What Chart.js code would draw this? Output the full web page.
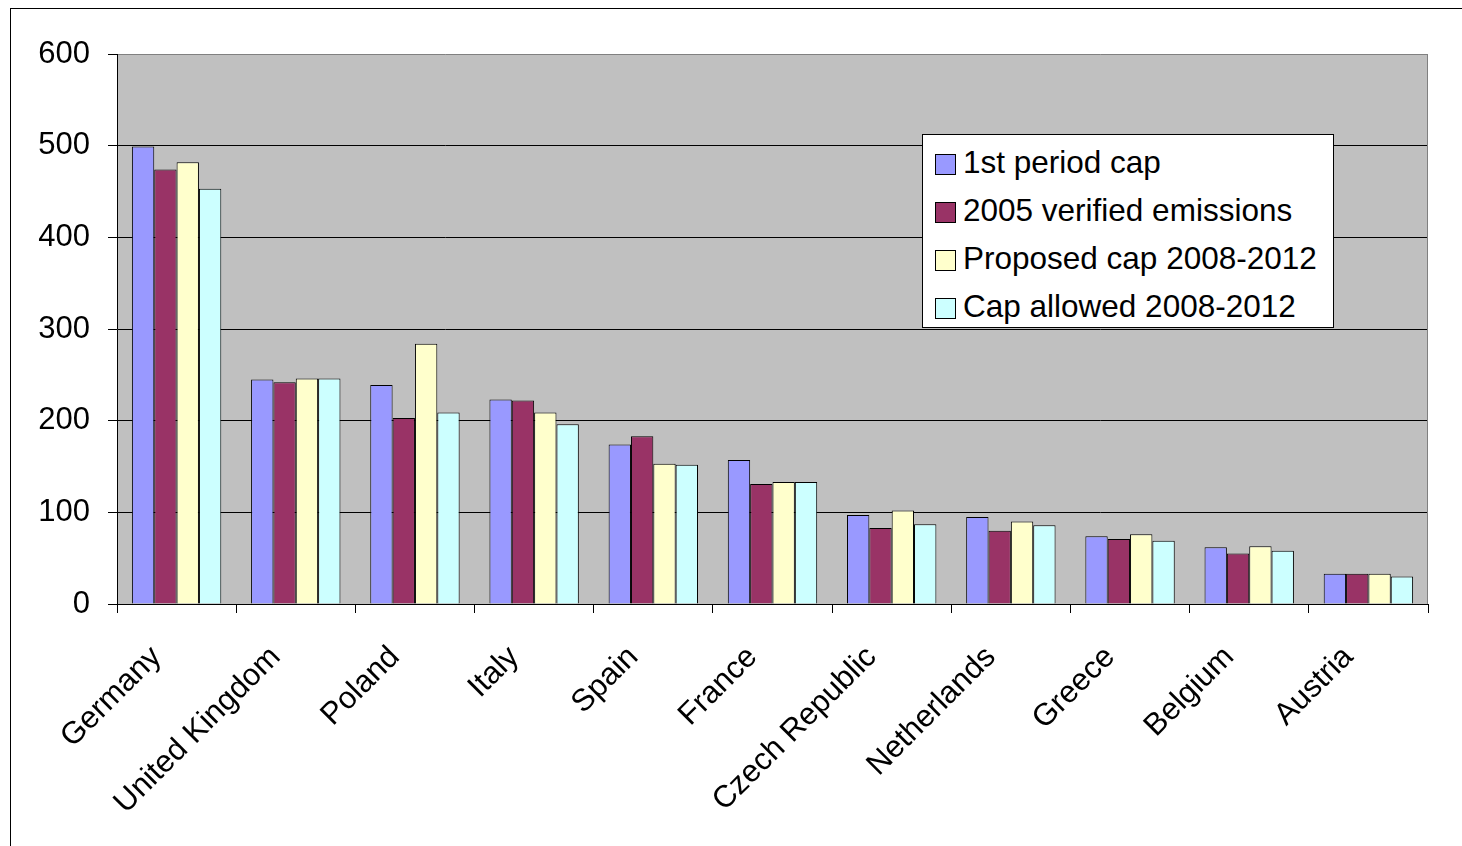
<!DOCTYPE html>
<html>
<head>
<meta charset="utf-8">
<script src="https://cdn.jsdelivr.net/npm/chart.js@4.4.0/dist/chart.umd.min.js"></script>
<style>
  html, body { margin: 0; padding: 0; background: #fff; }
  #wrap { position: relative; width: 1462px; height: 846px; }
  #legend {
    position: absolute; left: 922px; top: 134px; width: 410px; height: 192px;
    background: #fff; border: 1px solid #000;
    font-family: "Liberation Sans", Arial, sans-serif; font-size: 31.5px; color: #000;
  }
  #legend .item { position: absolute; left: 12px; height: 34px; line-height: 34px; white-space: nowrap; }
  #legend .box { display: inline-block; width: 19px; height: 19px; border: 1px solid #000; vertical-align: -2px; margin-right: 7px; }
</style>
</head>
<body>
<div id="wrap">
  <canvas id="chart" width="1462" height="846"></canvas>
  <div id="legend"></div>
</div>
<script>
const countries = ['Germany', 'United Kingdom', 'Poland', 'Italy', 'Spain', 'France',
    'Czech Republic', 'Netherlands', 'Greece', 'Belgium', 'Austria'];
const firstPeriodCap = [499, 245, 239, 223, 174, 157, 97, 95, 74, 62, 33];
const verified2005 = [474, 242, 203, 222, 183, 131, 83, 80, 71, 55, 33];
const proposedCap = [482, 246, 284, 209, 153, 133, 102, 90, 76, 63, 33];
const capAllowed = [453, 246, 209, 196, 152, 133, 87, 86, 69, 58, 30];
const yTicks = [0, 100, 200, 300, 400, 500, 600];

const fontFamily = '"Liberation Sans", Arial, sans-serif';

// gray plot background, frame round the whole chart, gray right edge of plot
const backdrop = {
    id: 'backdrop',
    beforeDraw(chart) {
        const ctx = chart.ctx;
        const a = chart.chartArea;
        ctx.save();
        ctx.fillStyle = '#fff';
        ctx.fillRect(0, 0, chart.width, chart.height);
        ctx.strokeStyle = '#000';
        ctx.lineWidth = 1;
        ctx.strokeRect(10.5, 8.5, 3000, 3000);
        ctx.fillStyle = '#C0C0C0';
        ctx.fillRect(a.left, a.top, a.right - a.left, a.bottom - a.top);
        ctx.restore();
    },
    afterDraw(chart) {
        const ctx = chart.ctx;
        const a = chart.chartArea;
        ctx.save();
        ctx.strokeStyle = '#808080';
        ctx.lineWidth = 1;
        ctx.beginPath();
        ctx.moveTo(a.right - 0.5, a.top);
        ctx.lineTo(a.right - 0.5, a.bottom);
        ctx.stroke();
        ctx.restore();
    }
};

const chart = new Chart(document.getElementById('chart').getContext('2d'), {
    type: 'bar',
    data: {
        labels: countries,
        datasets: [
            { label: '1st period cap', data: firstPeriodCap, backgroundColor: '#9999FF' },
            { label: '2005 verified emissions', data: verified2005, backgroundColor: '#993366' },
            { label: 'Proposed cap 2008-2012', data: proposedCap, backgroundColor: '#FFFFCC' },
            { label: 'Cap allowed 2008-2012', data: capAllowed, backgroundColor: '#CCFFFF' }
        ].map(d => Object.assign(d, {
            borderColor: '#000', borderWidth: 1, categoryPercentage: 0.75, barPercentage: 1
        }))
    },
    options: {
        responsive: false,
        animation: false,
        layout: { padding: { left: 0, top: 54, right: 34, bottom: 0 } },
        plugins: { legend: { display: false }, tooltip: { enabled: false } },
        scales: {
            x: {
                offset: true,
                grid: { offset: true, drawOnChartArea: false, color: '#000', tickLength: 9, tickColor: '#000' },
                border: { color: '#000', width: 1 },
                ticks: {
                    autoSkip: false, minRotation: 45, maxRotation: 45, padding: 26, labelOffset: -20,
                    color: '#000', font: { family: fontFamily, size: 31 }
                },
                afterFit(scale) { scale.height = 242; }
            },
            y: {
                min: 0, max: 600,
                afterBuildTicks(scale) { scale.ticks = yTicks.map(v => ({ value: v })); },
                grid: {
                    color: ctx => ctx.tick && ctx.tick.value === 600 ? '#808080' : '#000',
                    tickColor: '#000', tickLength: 9
                },
                border: { color: '#000', width: 1 },
                ticks: { padding: 18, color: '#000', font: { family: fontFamily, size: 31 } },
                afterFit(scale) { scale.width = 117; }
            }
        }
    },
    plugins: [backdrop]
});

// legend box placed inside the plot like the original
const legend = document.getElementById('legend');
chart.data.datasets.forEach((ds, i) => {
    const item = document.createElement('div');
    item.className = 'item';
    item.style.top = (10 + i * 48) + 'px';
    const box = document.createElement('span');
    box.className = 'box';
    box.style.background = ds.backgroundColor;
    item.appendChild(box);
    item.appendChild(document.createTextNode(ds.label));
    legend.appendChild(item);
});
</script>
</body>
</html>
